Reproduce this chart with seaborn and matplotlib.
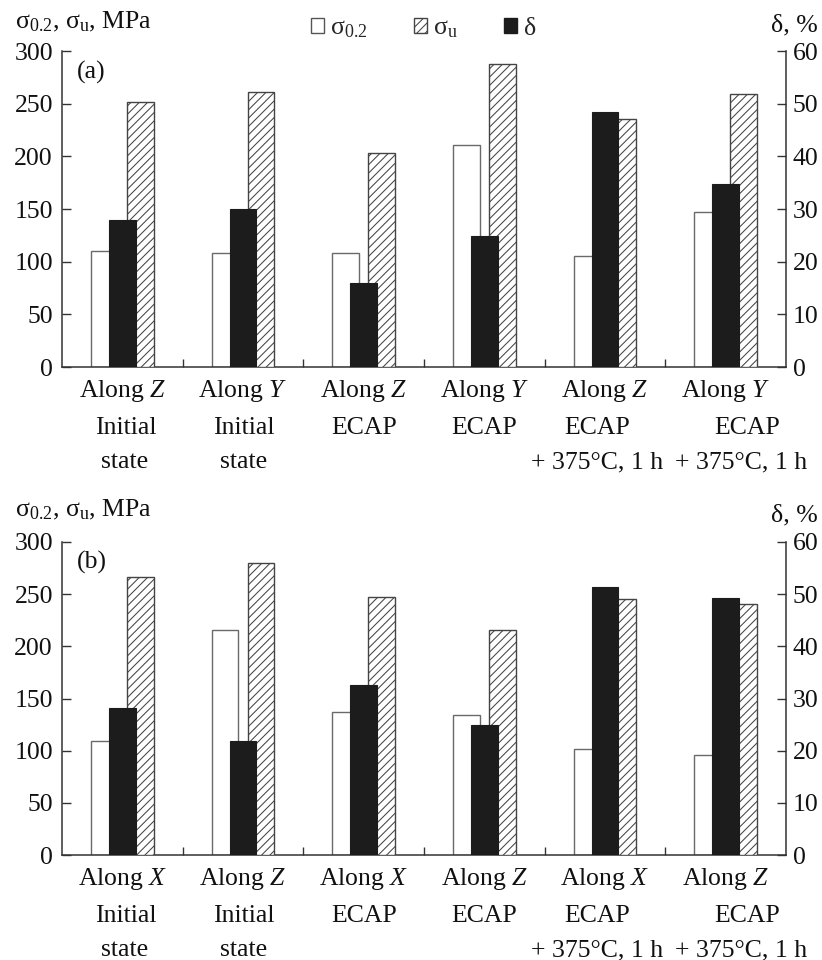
import matplotlib
matplotlib.use("Agg")
import matplotlib.pyplot as plt
import seaborn as sns
import numpy as np
from matplotlib.patches import Patch

# ---------------- data ----------------
a_dir = ["Z", "Y", "Z", "Y", "Z", "Y"]
b_dir = ["X", "Z", "X", "Z", "X", "Z"]
state_line2 = ["Initial", "Initial", "ECAP", "ECAP", "ECAP", "ECAP"]
state_line3 = ["state", "state", "", "", "+ 375°C, 1 h", "+ 375°C, 1 h"]

a_sig02 = [110, 108, 108, 211, 105, 147]
a_sigu = [252, 261, 203, 288, 235, 259]
a_delta = [28.0, 30.0, 16.0, 24.8, 48.5, 34.7]

b_sig02 = [109, 216, 137, 134, 102, 96]
b_sigu = [266, 280, 247, 216, 245, 241]
b_delta = [28.2, 21.9, 32.6, 25.0, 51.4, 49.3]

left_ticks = [0, 50, 100, 150, 200, 250, 300]
right_ticks = [0, 10, 20, 30, 40, 50, 60]

# ---------------- style ----------------
sns.set_theme(style="ticks")
plt.rcParams["font.family"] = ["Liberation Serif", "DejaVu Serif"]
plt.rcParams["mathtext.fontset"] = "custom"
plt.rcParams["mathtext.rm"] = "Liberation Serif"
plt.rcParams["mathtext.it"] = "Liberation Serif:italic"
plt.rcParams["hatch.linewidth"] = 0.75
plt.rcParams["hatch.color"] = "#444444"

FS = 18.5
SPINE = "#333333"
BLACK = "#1c1c1c"

fig = plt.figure(figsize=(8.22, 9.6), dpi=100)
W, H = 822.0, 960.0


def panel(ax, sig02, sigu, delta, dirs, tag, tag_y, lab_offsets):
    n = len(sig02)
    idx = np.arange(n)
    w = 0.22
    sns.barplot(x=idx - 0.15, y=sig02, ax=ax, native_scale=True, orient="x",
                width=w, color="white", edgecolor="#6a6a6a", linewidth=1.0,
                saturation=1, errorbar=None, zorder=2)
    sns.barplot(x=idx + 0.15, y=sigu, ax=ax, native_scale=True, orient="x",
                width=w, color="white", edgecolor="#444444", linewidth=1.0,
                hatch="////", saturation=1, errorbar=None, zorder=3)
    ax2 = ax.twinx()
    sns.barplot(x=idx + 0.0, y=delta, ax=ax2, native_scale=True, orient="x",
                width=w, color=BLACK, edgecolor=BLACK, linewidth=0.8,
                saturation=1, errorbar=None, zorder=4)

    ax.set_xlim(-0.5, n - 0.5)
    ax.set_ylim(0, 300)
    ax2.set_ylim(0, 60)
    ax.set_yticks(left_ticks)
    ax2.set_yticks(right_ticks)
    ax.set_xticks(np.arange(n - 1) + 0.5)
    ax.set_xticklabels([])
    ax.set_xlabel("")
    ax.set_ylabel("")
    ax2.set_xlabel("")
    ax2.set_ylabel("")

    for a in (ax, ax2):
        a.spines["top"].set_visible(False)
        for s in ("left", "right", "bottom"):
            a.spines[s].set_color(SPINE)
            a.spines[s].set_linewidth(1.1)
    ax.spines["right"].set_visible(False)
    ax2.spines["left"].set_visible(False)
    ax2.spines["bottom"].set_visible(False)

    ax.tick_params(axis="y", direction="in", length=6.5, width=1.0,
                   color=SPINE, labelsize=FS, pad=6.5, labelcolor="#111111")
    ax.tick_params(axis="x", direction="in", length=6, width=1.0,
                   color=SPINE)
    ax2.tick_params(axis="y", direction="in", length=6.5, width=1.0,
                    color=SPINE, labelsize=FS, pad=5, labelcolor="#111111")

    # category labels under the axis
    tr = ax.get_xaxis_transform()
    for i in range(n):
        ax.annotate(r"Along $\mathit{%s}$" % dirs[i], xy=(i, 0), xycoords=tr,
                    xytext=(0, -30.5), textcoords="offset pixels",
                    ha="center", va="baseline", fontsize=FS, color="#111111",
                    annotation_clip=False)
        dx2, dx3 = lab_offsets[i]
        ax.annotate(state_line2[i], xy=(i, 0), xycoords=tr,
                    xytext=(dx2, -67), textcoords="offset pixels",
                    ha="center", va="baseline", fontsize=FS, color="#111111",
                    annotation_clip=False)
        if state_line3[i]:
            ax.annotate(state_line3[i], xy=(i, 0), xycoords=tr,
                        xytext=(dx3, -101.5), textcoords="offset pixels",
                        ha="center", va="baseline", fontsize=FS,
                        color="#111111", annotation_clip=False)

    ax.text(15 / 724, tag_y, tag, transform=ax.transAxes, ha="left",
            va="center", fontsize=FS, color="#111111")
    return ax2


offs = [(3, 2), (1, 1), (0, 0), (0, 0), (-8, -8), (21, 15)]

ax_a = fig.add_axes([62 / W, 1 - 367 / H, 724 / W, 316 / H])
panel(ax_a, a_sig02, a_sigu, a_delta, a_dir, "(a)", 0.932, offs)
ax_b = fig.add_axes([62 / W, 1 - 855 / H, 724 / W, 313 / H])
panel(ax_b, b_sig02, b_sigu, b_delta, b_dir, "(b)", 0.934, offs)

ylab = r"σ$_{0.2}$, σ$_{\mathrm{u}}$, MPa"
fig.text(15 / W, 1 - 28 / H, ylab, ha="left", va="baseline", fontsize=FS,
         color="#111111")
fig.text(818 / W, 1 - 31 / H, "δ, %", ha="right", va="baseline", fontsize=FS,
         color="#111111")
fig.text(15 / W, 1 - 516 / H, ylab, ha="left", va="baseline", fontsize=FS,
         color="#111111")
fig.text(818 / W, 1 - 521 / H, "δ, %", ha="right", va="baseline", fontsize=FS,
         color="#111111")

handles = [Patch(facecolor="white", edgecolor="#555555", linewidth=1.0),
           Patch(facecolor="white", edgecolor="#444444", hatch="////",
                 linewidth=1.0),
           Patch(facecolor=BLACK, edgecolor=BLACK)]
labels = [r"σ$_{0.2}$", r"σ$_{\mathrm{u}}$", "δ"]
fig.legend(handles, labels, loc="center left",
           bbox_to_anchor=(311 / W, 1 - 29 / H), ncol=3, frameon=False,
           fontsize=FS, handlelength=0.5, handleheight=0.5,
           handletextpad=0.25, columnspacing=1.8, borderpad=0,
           borderaxespad=0)

fig.savefig("out.png", dpi=100)
